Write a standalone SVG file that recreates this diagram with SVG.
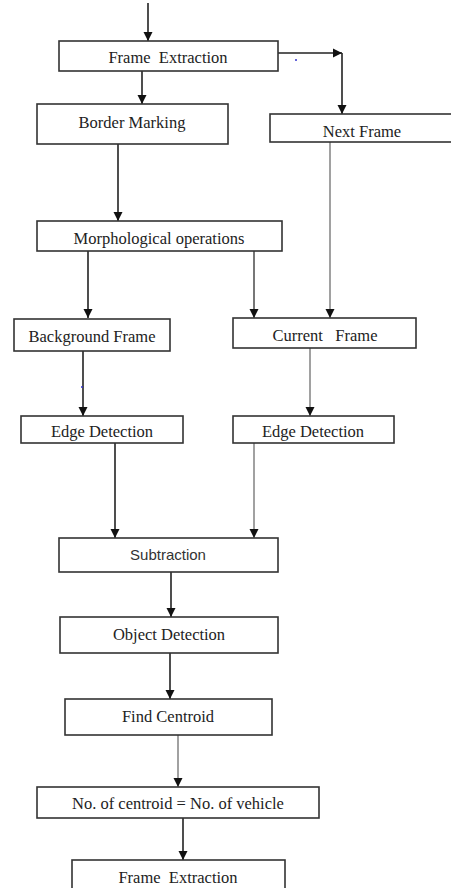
<svg xmlns="http://www.w3.org/2000/svg" width="451" height="888" viewBox="0 0 451 888">
<style>
.box{fill:#fff;stroke:#333;stroke-width:1.6}
.t{font-family:"Liberation Serif","Times New Roman",serif;font-size:16.5px;fill:#222;text-anchor:middle}
.s{font-family:"Liberation Sans",Arial,sans-serif;font-size:15px;fill:#333;text-anchor:middle}
.c{fill:none;stroke:#222;stroke-width:1.6;marker-end:url(#ah)}
.g{stroke:#8a8a8a}
.m{stroke:#555}
</style>
<defs>
<marker id="ah" markerUnits="userSpaceOnUse" markerWidth="10" markerHeight="10" refX="9" refY="5" orient="auto">
<path d="M0,0.5 L9,5 L0,9.5 Z" fill="#111"/>
</marker>
</defs>
<rect width="451" height="888" fill="#fff"/>
<g id="connectors">
<line class="c" x1="148" y1="3" x2="148" y2="41"/>
<line class="c" x1="142" y1="71" x2="142" y2="104"/>
<line class="c" x1="278" y1="53" x2="342" y2="53"/>
<line class="c" x1="342" y1="53" x2="342" y2="114"/>
<line class="c" x1="118" y1="144" x2="118" y2="221"/>
<line class="c" x1="88" y1="251" x2="88" y2="318"/>
<line class="c m" x1="254" y1="251" x2="254" y2="318"/>
<line class="c g" x1="330" y1="142" x2="330" y2="318"/>
<line class="c" x1="83" y1="351" x2="83" y2="416"/>
<line class="c g" x1="310" y1="348" x2="310" y2="416"/>
<line class="c" x1="115" y1="443" x2="115" y2="538"/>
<line class="c g" x1="254" y1="443" x2="254" y2="538"/>
<line class="c" x1="171" y1="572" x2="171" y2="617"/>
<line class="c" x1="170" y1="653" x2="170" y2="699"/>
<line class="c g" x1="178" y1="735" x2="178" y2="787"/>
<line class="c" x1="183" y1="818" x2="183" y2="860"/>
<circle cx="296" cy="60" r="1" fill="#33c"/>
<circle cx="82" cy="387" r="1" fill="#33c"/>
</g>
<g id="frame-extraction-1"><rect class="box" x="59" y="41" width="219" height="30"/><text class="t" x="168" y="63" xml:space="preserve">Frame  Extraction</text></g>
<g id="border-marking"><rect class="box" x="37" y="104" width="191" height="40"/><text class="t" x="132" y="128">Border Marking</text></g>
<g id="next-frame"><rect class="box" x="270" y="114" width="184" height="28"/><text class="t" x="362" y="137">Next Frame</text></g>
<g id="morphological"><rect class="box" x="37" y="221" width="245" height="30"/><text class="t" x="159" y="244">Morphological operations</text></g>
<g id="background-frame"><rect class="box" x="14" y="319" width="156" height="32"/><text class="t" x="92" y="342">Background Frame</text></g>
<g id="current-frame"><rect class="box" x="233" y="318" width="183" height="30"/><text class="t" x="325" y="341" xml:space="preserve">Current   Frame</text></g>
<g id="edge-detection-left"><rect class="box" x="21" y="416" width="162" height="27"/><text class="t" x="102" y="437">Edge Detection</text></g>
<g id="edge-detection-right"><rect class="box" x="233" y="416" width="161" height="27"/><text class="t" x="313" y="437">Edge Detection</text></g>
<g id="subtraction"><rect class="box" x="59" y="538" width="219" height="34"/><text class="s" x="168" y="560">Subtraction</text></g>
<g id="object-detection"><rect class="box" x="60" y="617" width="218" height="36"/><text class="t" x="169" y="640">Object Detection</text></g>
<g id="find-centroid"><rect class="box" x="65" y="699" width="207" height="36"/><text class="t" x="168" y="722">Find Centroid</text></g>
<g id="count"><rect class="box" x="37" y="787" width="282" height="31"/><text class="t" x="178" y="809">No. of centroid = No. of vehicle</text></g>
<g id="frame-extraction-2"><rect class="box" x="72" y="860" width="213" height="36"/><text class="t" x="178" y="883" xml:space="preserve">Frame  Extraction</text></g>
</svg>
